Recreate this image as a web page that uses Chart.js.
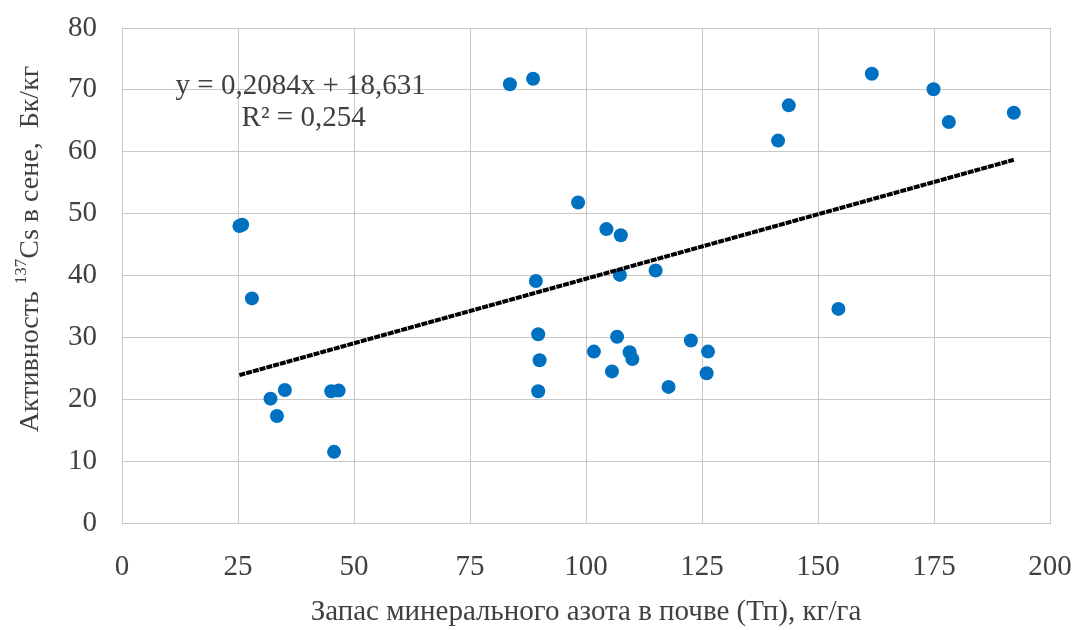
<!DOCTYPE html>
<html>
<head>
<meta charset="utf-8">
<script src="https://cdn.jsdelivr.net/npm/chart.js@4.4.1/dist/chart.umd.min.js"></script>
<style>
    html, body { margin: 0; padding: 0; background: #fff; }
    canvas { display: block; }
</style>
</head>
<body>
<canvas id="myChart" width="1075" height="630"></canvas>
<script>
// nitrogen stock in soil (kg/ha) and 137Cs activity in hay (Bq/kg)
var nitrogen = [25.3, 25.9, 28.0, 32.0, 33.4, 35.1, 45.1, 46.7, 45.7,
                83.6, 88.6, 89.2, 89.7, 90.0, 89.7, 98.3, 104.4, 107.5,
                107.3, 115.0, 101.7, 106.7, 105.6, 109.4, 110.0, 117.8, 122.6,
                126.3, 126.0, 141.4, 143.7, 154.4, 161.6, 174.9, 178.2, 192.2];
var cesium = [48.0, 48.2, 36.3, 20.1, 17.3, 21.5, 21.3, 21.4, 11.5,
              70.9, 71.8, 39.1, 30.5, 26.3, 21.3, 51.8, 47.5, 46.5,
              40.1, 40.8, 27.7, 30.1, 24.5, 27.6, 26.5, 22.0, 29.5,
              27.7, 24.2, 61.8, 67.5, 34.6, 72.6, 70.1, 64.8, 66.3];
var trendX = [25.3, 192.2];
var trendY = [23.9, 58.7];
var xTicks = [0, 25, 50, 75, 100, 125, 150, 175, 200];
var yTicks = [0, 10, 20, 30, 40, 50, 60, 70, 80];
var equationLines = ['y = 0,2084x + 18,631', 'R\u00B2 = 0,254'];

var serif = '"Liberation Serif", "Times New Roman", serif';
var textColor = '#404040';
var gridColor = '#c8c8c8';

var points = nitrogen.map(function(v, i) { return { x: v, y: cesium[i] }; });
var trend = trendX.map(function(v, i) { return { x: v, y: trendY[i] }; });

// y title has a superscript, so draw it by hand
var yTitlePlugin = {
    id: 'yTitle',
    afterDraw: function(chart) {
        var ctx = chart.ctx;
        var parts = [['Активность ', 28, 0], ['137', 17, -12], ['Cs в сене,  Бк/кг', 28, 0]];
        ctx.save();
        ctx.translate(38, 249);
        ctx.rotate(-Math.PI / 2);
        var total = 0;
        parts.forEach(function(p) {
            ctx.font = p[1] + 'px ' + serif;
            total += ctx.measureText(p[0]).width;
        });
        var x = -total / 2;
        ctx.fillStyle = textColor;
        ctx.textBaseline = 'alphabetic';
        parts.forEach(function(p) {
            ctx.font = p[1] + 'px ' + serif;
            ctx.fillText(p[0], x, p[2]);
            x += ctx.measureText(p[0]).width;
        });
        ctx.restore();
    }
};

var equationPlugin = {
    id: 'equation',
    afterDatasetsDraw: function(chart) {
        var ctx = chart.ctx;
        var px = chart.scales.x.getPixelForValue(38.5);
        var py = chart.scales.y.getPixelForValue(70.5);
        ctx.save();
        ctx.font = '29px ' + serif;
        ctx.fillStyle = textColor;
        ctx.textAlign = 'center';
        ctx.textBaseline = 'middle';
        equationLines.forEach(function(t, i) {
            ctx.fillText(t, px + i * 3, py + i * 32);
        });
        ctx.restore();
    }
};

function noOverflow(s) {
    s.paddingTop = 0;
    s.paddingBottom = 0;
    s.paddingLeft = 0;
    s.paddingRight = 0;
}

var ctx = document.getElementById('myChart').getContext('2d');
var myChart = new Chart(ctx, {
    type: 'scatter',
    data: {
        datasets: [{
            label: 'Тренд',
            type: 'line',
            data: trend,
            borderColor: '#000000',
            borderWidth: 4,
            borderDash: [6, 1],
            pointRadius: 0,
            fill: false,
            order: 0
        }, {
            label: 'Данные',
            data: points,
            backgroundColor: '#0070c0',
            borderWidth: 0,
            pointRadius: 7,
            pointHoverRadius: 7,
            order: 1
        }]
    },
    options: {
        responsive: false,
        animation: false,
        devicePixelRatio: 1,
        layout: { autoPadding: false, padding: { left: 0, top: 28, right: 25, bottom: 0 } },
        plugins: {
            legend: { display: false },
            tooltip: { enabled: false }
        },
        scales: {
            x: {
                type: 'linear',
                min: xTicks[0],
                max: xTicks[xTicks.length - 1],
                afterFit: function(s) { s.height = 107; noOverflow(s); },
                afterBuildTicks: function(s) { s.ticks = xTicks.map(function(v) { return { value: v }; }); },
                grid: { color: gridColor, drawTicks: false },
                border: { color: gridColor },
                ticks: { padding: 27, color: textColor, font: { family: serif, size: 29 } },
                title: {
                    display: true,
                    text: 'Запас минерального азота в почве (Тп), кг/га',
                    color: textColor,
                    font: { family: serif, size: 29 },
                    padding: { top: -4, bottom: 0 }
                }
            },
            y: {
                type: 'linear',
                min: yTicks[0],
                max: yTicks[yTicks.length - 1],
                afterFit: function(s) { s.width = 122; noOverflow(s); },
                afterBuildTicks: function(s) { s.ticks = yTicks.map(function(v) { return { value: v }; }); },
                grid: { color: gridColor, drawTicks: false },
                border: { color: gridColor },
                ticks: { padding: 25, color: textColor, font: { family: serif, size: 29 } }
            }
        }
    },
    plugins: [yTitlePlugin, equationPlugin]
});
</script>
</body>
</html>
